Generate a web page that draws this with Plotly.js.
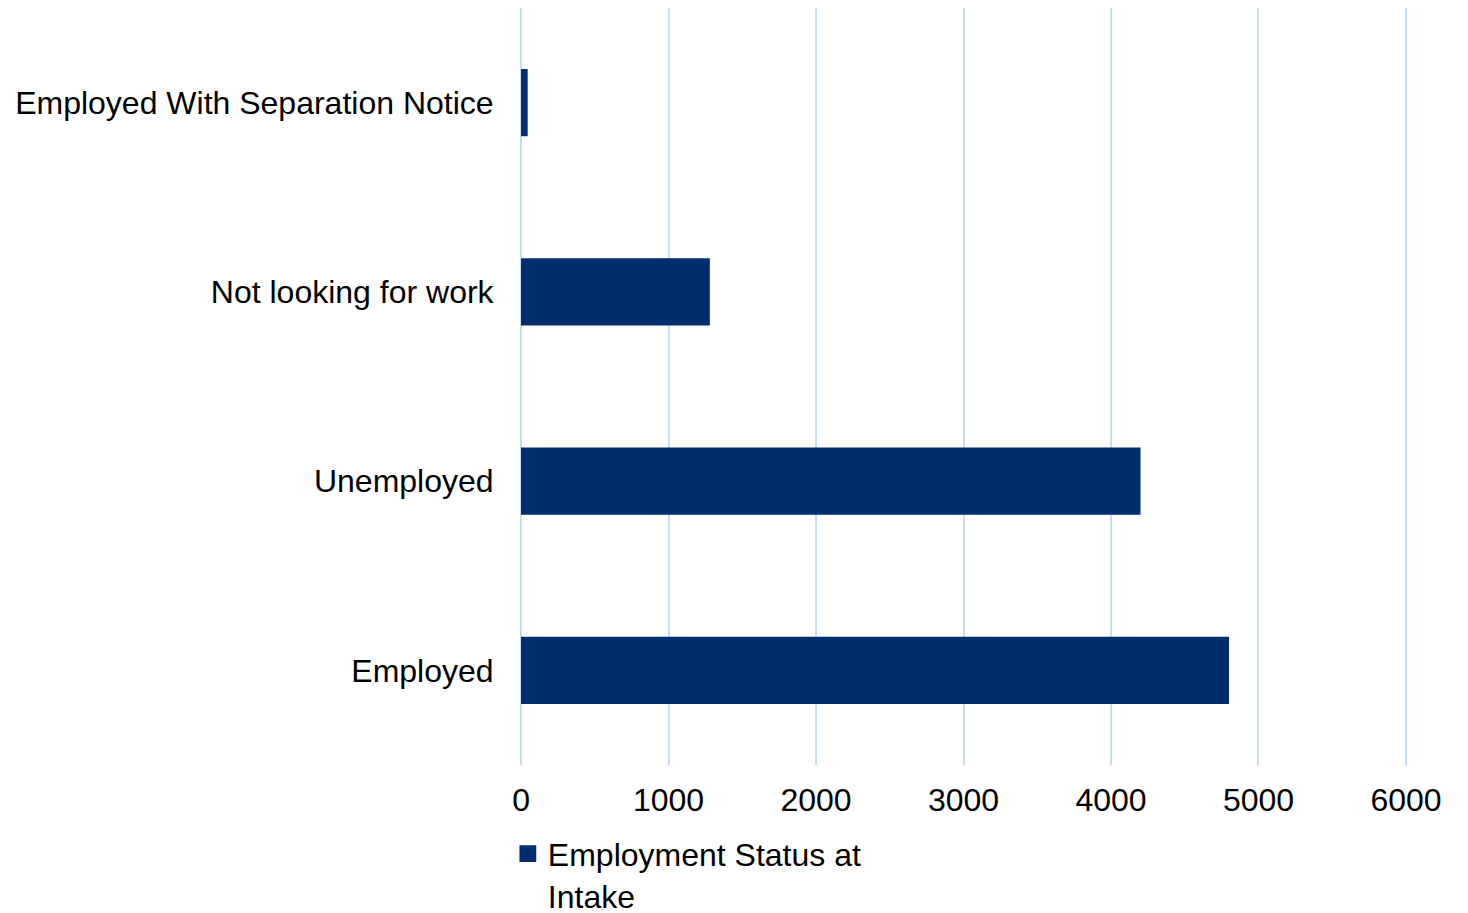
<!DOCTYPE html>
<html>
<head>
<meta charset="utf-8">
<script src="https://cdn.plot.ly/plotly-3.0.1.min.js"></script>
<style>html,body{margin:0;padding:0;background:#fff;}#chart{width:1468px;height:913px;}</style>
</head>
<body>
<div id="chart"></div>
<script>
const categories = ["Employed", "Unemployed", "Not looking for work", "Employed With Separation Notice"];
const values = [4800, 4200, 1280, 45];
const seriesName = "Employment Status at<br>Intake";
const xTicks = [0, 1000, 2000, 3000, 4000, 5000, 6000];

const font = {family: "Liberation Sans, Arial, sans-serif", size: 32, color: "#000"};

Plotly.newPlot("chart", [{
  type: "bar",
  orientation: "h",
  y: categories,
  x: values,
  name: seriesName,
  marker: {color: "#002D6E"},
  showlegend: true,
  hoverinfo: "x+y"
}], {
  width: 1468, height: 913,
  margin: {l: 520, r: 61, t: 8, b: 148, pad: 0, autoexpand: false},
  paper_bgcolor: "#fff", plot_bgcolor: "#fff",
  font: font,
  bargap: 0.645,
  showlegend: true,
  xaxis: {
    range: [-7, 6007], tickvals: xTicks, ticktext: xTicks.map(String),
    showgrid: true, gridcolor: "#C6DCF9", gridwidth: 2,
    zeroline: false, showline: false,
    ticks: "outside", ticklen: 7, tickcolor: "rgba(0,0,0,0)",
    tickfont: font, fixedrange: true, automargin: false
  },
  yaxis: {
    categoryorder: "array", categoryarray: categories,
    showgrid: false, zeroline: false, showline: false,
    ticks: "outside", ticklen: 19, tickcolor: "rgba(0,0,0,0)",
    tickfont: font, fixedrange: true, automargin: false
  },
  legend: {
    orientation: "h", x: -0.0137, xanchor: "left",
    yref: "container", y: 0.095, yanchor: "top",
    valign: "top", font: font, bgcolor: "rgba(0,0,0,0)"
  }
}, {displayModeBar: false, staticPlot: true}).then(function () {
  document.querySelectorAll(".legend .legendpoints path").forEach(function (p) {
    var t = p.getAttribute("transform") || "";
    p.setAttribute("transform", t + " scale(1.4)");
  });
});
</script>
</body>
</html>
